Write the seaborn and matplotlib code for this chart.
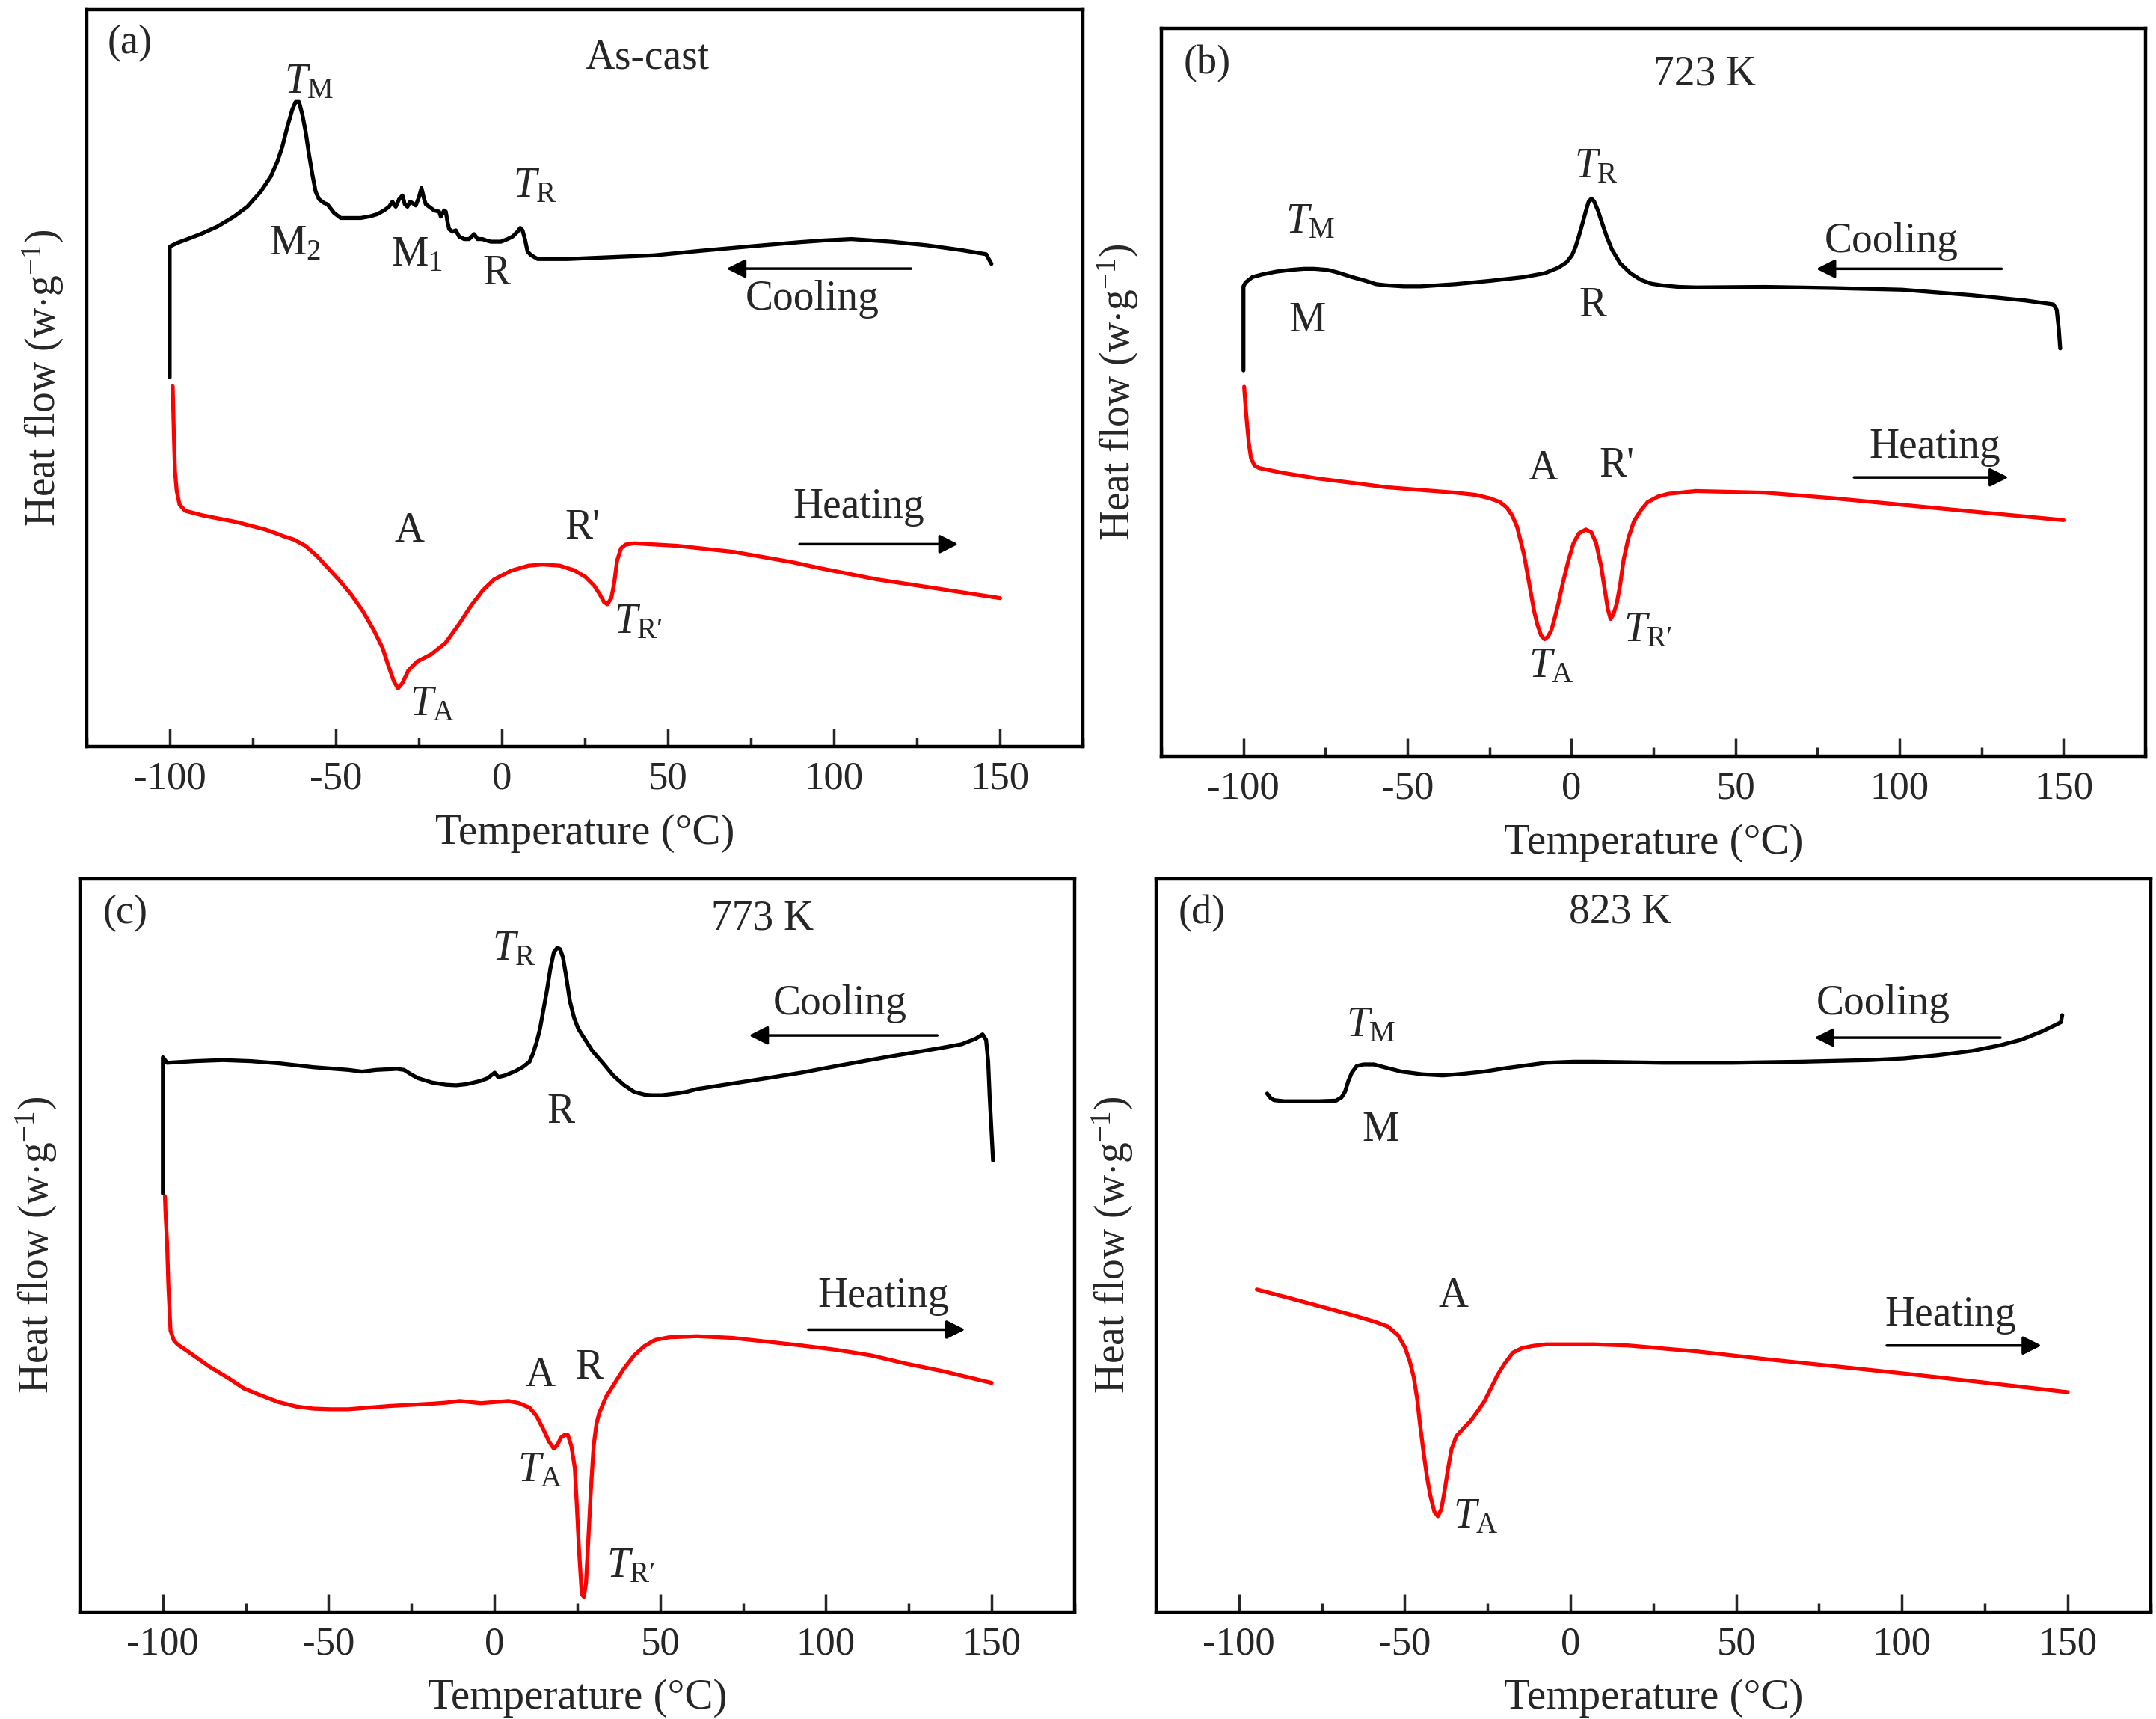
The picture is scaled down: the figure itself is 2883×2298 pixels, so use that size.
import numpy as np
import pandas as pd
import matplotlib
matplotlib.use("Agg")
import matplotlib.pyplot as plt
from matplotlib.ticker import MultipleLocator
import seaborn as sns

# ---- data (temperature in degC, heat flow in arbitrary units) ----
# (a) As-cast
a_cool_T = [-100, -100, -97.73, -94.72, -90.70, -85.68, -80.65, -76.63, -72.61, -69.60, -67.59, -66.08,
            -64.57, -63.06, -62.06, -61.05, -60.05, -59.04, -58.04, -57.03, -56.03, -55.02, -53.51, -52.51,
            -50.50, -48.49, -45.48, -42.46, -39.45, -37.44, -35.43, -33.92, -32.91, -31.91, -30.90, -29.90,
            -29.19, -28.39, -27.59, -26.88, -25.88, -24.87, -24.17, -23.36, -22.86, -21.36, -20.35, -18.84,
            -18.34, -17.33, -16.83, -16.33, -15.83, -14.82, -13.82, -12.81, -11.31, -9.80, -8.29, -7.29,
            -5.78, -4.77, -3.27, -0.25, 1.76, 3.27, 4.78, 5.58, 6.28, 6.99, 7.79, 8.80, 10.81, 19.85,
            45.98, 60.0, 76.3, 90.0, 97.0, 105.3, 117.7, 128.0, 138.4, 145.9, 147.5]
a_cool_y = [268.4, 363.5, 366.2, 368.9, 372.6, 378.0, 385.3, 392.5, 403.4, 414.3, 425.2, 436.1,
            450.5, 463.2, 468.7, 468.7, 459.6, 446.9, 430.6, 416.1, 403.4, 398.0, 395.2, 394.3,
            388.0, 384.3, 384.3, 384.3, 385.6, 387.1, 389.8, 392.5, 396.1, 392.5, 398.0, 400.7,
            394.3, 392.5, 396.1, 395.2, 393.4, 399.8, 406.1, 398.0, 394.3, 391.6, 389.8, 388.9,
            385.3, 389.8, 388.9, 381.6, 376.2, 374.4, 375.3, 370.8, 369.0, 369.0, 372.6, 369.0,
            369.0, 368.1, 367.1, 367.1, 369.0, 370.8, 374.4, 377.1, 375.3, 369.0, 359.9, 357.4, 354.5, 354.5,
            357.2, 360.5, 364.0, 366.8, 368.0, 369.0, 367.0, 364.5, 361.0, 358.0, 351.0]
a_heat_T = [-99.09, -98.74, -98.40, -97.88, -97.02, -95.30, -90.13, -79.80, -71.19, -66.88, -65.68, -62.58,
            -59.13, -55.69, -52.24, -48.80, -45.35, -41.91, -38.46, -35.88, -34.16, -32.43, -31.23, -29.85,
            -28.13, -25.55, -21.24, -16.94, -12.63, -9.19, -5.74, -2.30, 2.87, 8.04, 12.34, 17.51, 21.82,
            25.26, 27.84, 29.57, 30.77, 31.81, 33.01, 33.88, 34.74, 35.94, 37.32, 39.90, 52.82, 70.04,
            87.26, 95.88, 113.1, 130.3, 150.1]
a_heat_y = [262.0, 227.6, 200.4, 185.9, 175.9, 171.4, 168.1, 163.2, 157.8, 154.1, 152.9, 150.5,
            146.0, 138.7, 129.7, 120.6, 110.6, 98.8, 84.4, 71.7, 59.0, 47.2, 42.3, 46.3,
            55.3, 61.7, 67.1, 75.3, 89.8, 102.5, 113.4, 121.5, 127.9, 131.5, 132.4, 131.5, 128.2,
            123.3, 117.0, 110.6, 105.2, 103.4, 107.9, 118.8, 135.1, 144.2, 146.9, 147.8, 146.0, 141.5,
            134.2, 129.7, 121.5, 115.2, 107.9]

# (b) 723 K
b_cool_T = [-100, -100, -99.37, -97.28, -94.13, -89.94, -85.75, -81.56, -78.42, -74.22, -71.08, -66.89,
            -62.70, -59.56, -56.41, -51.17, -45.93, -35.46, -24.98, -14.50, -8.21, -4.02, -1.51, 0.17,
            1.22, 2.26, 3.31, 4.36, 5.20, 6.04, 6.87, 8.13, 9.39, 10.65, 12.32, 14.84, 17.98, 21.12,
            24.27, 27.41, 32.65, 37.89, 58.84, 79.80, 100.75, 121.71, 138.47, 146.86, 147.90, 148.53, 148.95]
b_cool_y = [515.8, 628.0, 633.2, 640.5, 644.2, 647.8, 650.0, 651.5, 651.5, 650.0, 646.4, 640.5,
            635.4, 631.0, 629.5, 628.0, 628.0, 631.0, 635.4, 640.5, 645.6, 653.0, 660.3, 669.8,
            680.8, 695.5, 711.7, 728.5, 741.0, 745.4, 741.7, 728.5, 711.7, 695.5, 677.2, 658.8, 645.6, 636.8,
            631.7, 629.5, 627.3, 626.6, 627.3, 625.8, 623.6, 616.3, 609.0, 603.8, 596.5, 570.8, 545.1]
b_heat_T = [-99.79, -99.37, -98.95, -98.32, -97.69, -96.65, -95.18, -87.85, -77.37, -66.89, -56.41, -45.93,
            -35.46, -29.17, -24.98, -21.84, -19.74, -18.06, -16.60, -15.55, -14.50, -13.45, -12.41, -11.36,
            -10.31, -9.26, -8.21, -7.17, -6.12, -5.07, -4.02, -2.56, -0.88, 0.59, 2.26, 4.36, 6.04, 7.50,
            8.97, 10.02, 11.06, 11.90, 12.74, 13.79, 14.84, 15.88, 17.35, 19.03, 21.12, 23.22, 26.36,
            29.51, 37.89, 58.84, 79.80, 100.75, 121.71, 150.0]
b_heat_y = [493.8, 468.1, 446.1, 416.7, 398.4, 388.8, 385.2, 378.6, 371.2, 365.4, 359.5, 355.8,
            352.2, 349.2, 344.8, 339.7, 332.4, 321.4, 306.7, 288.3, 270.0, 244.3, 218.6, 192.9,
            174.6, 161.4, 156.3, 159.9, 168.7, 185.6, 204.0, 233.3, 262.7, 284.7, 297.9, 303.0, 299.3, 284.7,
            255.3, 226.0, 196.6, 183.4, 189.3, 204.0, 229.6, 262.7, 292.0, 314.0, 328.7, 339.7, 347.0,
            350.7, 354.4, 352.2, 344.8, 336.0, 327.2, 315.5]

# (c) 773 K
c_cool_T = [-100, -100, -98.74, -90.33, -81.92, -73.51, -65.10, -54.58, -44.07, -39.87, -35.66, -29.35,
            -27.25, -25.15, -23.04, -18.84, -14.63, -11.48, -8.33, -4.12, -2.02, -0.97, 0.08, 1.14, 3.24,
            6.39, 8.49, 10.60, 11.65, 12.70, 13.75, 14.80, 15.85, 16.90, 17.96, 19.01, 19.85, 20.69, 21.53,
            22.79, 24.05, 25.32, 27.42, 29.52, 32.67, 35.83, 38.98, 42.14, 45.29, 47.39, 50.55, 54.75,
            57.91, 61.06, 71.57, 82.09, 92.60, 103.11, 117.83, 134.65, 140.96, 145.16, 147.27, 148.32,
            148.95, 149.37, 150.42]
c_cool_y = [559.1, 741.0, 733.7, 735.9, 737.3, 735.9, 733.0, 727.8, 724.2, 721.9, 724.2, 725.6,
            724.2, 718.3, 713.1, 707.3, 704.3, 703.6, 705.1, 709.5, 713.1, 716.8, 720.5, 714.6, 716.8,
            722.7, 727.8, 735.1, 746.1, 760.8, 779.2, 804.8, 830.5, 859.9, 881.9, 887.7, 885.5, 874.5, 852.5,
            815.8, 793.8, 779.2, 764.5, 749.8, 733.7, 716.8, 704.3, 694.8, 691.1, 690.4, 690.4, 692.6,
            694.8, 698.5, 705.8, 713.1, 720.5, 729.3, 741.0, 753.5, 758.6, 766.0, 771.8, 764.5,
            735.1, 691.1, 603.1]
c_heat_T = [-99.37, -99.16, -98.74, -98.32, -97.69, -96.64, -95.58, -92.43, -86.12, -79.81, -75.61, -70.35,
            -65.10, -59.84, -54.58, -49.33, -44.07, -37.76, -31.45, -25.15, -18.84, -14.63, -10.43, -7.27,
            -4.12, 0.08, 4.29, 7.44, 10.60, 12.70, 14.80, 16.48, 17.96, 19.01, 20.06, 21.11, 22.16, 23.21,
            24.26, 24.89, 25.53, 26.37, 27.00, 27.63, 28.26, 29.10, 29.94, 30.78, 31.62, 33.73, 35.83,
            38.98, 42.14, 45.29, 48.44, 52.65, 61.06, 71.57, 82.09, 92.60, 103.11, 113.63, 124.14,
            134.65, 150.0]
c_heat_y = [555.4, 529.7, 493.0, 434.3, 375.6, 362.4, 357.3, 347.8, 328.0, 311.1, 298.6, 289.1,
            280.3, 274.4, 271.5, 270.7, 270.7, 272.9, 275.1, 276.6, 278.1, 279.5, 281.7, 280.3,
            278.8, 280.3, 281.7, 278.8, 272.9, 261.9, 243.6, 227.4, 217.9, 223.0, 232.6, 236.2, 236.2, 221.6,
            192.2, 140.9, 82.2, 23.5, 19.8, 38.2, 89.5, 162.9, 221.6, 251.0, 265.6, 287.6, 302.3,
            324.3, 342.6, 355.1, 363.2, 366.8, 368.3, 366.1, 361.0, 355.8, 350.0, 342.6, 331.6,
            322.1, 305.9]

# (d) 823 K
d_cool_T = [-91.49, -90.45, -89.41, -86.30, -75.91, -70.72, -69.06, -68.02, -66.99, -65.95, -64.49, -62.42,
            -59.30, -56.19, -51.00, -44.77, -38.54, -32.31, -26.08, -19.85, -13.62, -7.39, 0.91, 7.14,
            27.91, 48.67, 69.44, 90.20, 100.58, 110.96, 121.35, 129.65, 135.88, 142.11, 146.26, 147.92, 148.34]
d_cool_y = [692.6, 686.7, 683.8, 682.3, 682.3, 683.1, 687.5, 694.8, 709.5, 720.5, 729.3, 731.5,
            731.5, 727.8, 721.9, 718.3, 716.8, 719.0, 721.9, 726.3, 730.0, 733.7, 735.1, 735.1,
            733.7, 733.7, 735.1, 737.3, 739.5, 743.9, 749.8, 757.2, 764.5, 775.5, 784.3, 788.0, 797.5]
d_heat_T = [-94.60, -86.30, -75.91, -65.53, -59.30, -55.15, -52.03, -49.96, -48.50, -47.26, -46.22, -45.39,
            -44.35, -43.31, -42.28, -41.03, -39.99, -38.95, -37.92, -36.88, -35.84, -34.39, -32.31, -30.23,
            -28.16, -26.08, -24.00, -21.93, -19.85, -17.36, -14.66, -11.54, -7.39, -3.24, 7.14, 17.52,
            38.29, 59.05, 79.82, 100.58, 121.35, 150.0]
d_heat_y = [430.7, 421.1, 408.7, 396.2, 388.1, 381.5, 369.8, 353.6, 335.3, 313.3, 284.0, 251.0,
            214.2, 181.2, 155.5, 133.5, 127.7, 137.2, 162.9, 192.2, 217.9, 234.8, 245.1, 254.6,
            267.1, 280.3, 298.6, 317.0, 331.6, 346.3, 352.2, 355.1, 357.3, 357.3, 357.3, 355.8,
            347.8, 337.5, 328.0, 318.4, 308.1, 293.5]

panel_tags = ["(a)", "(b)", "(c)", "(d)"]
panel_titles = ["As-cast", "723 K", "773 K", "823 K"]
x_ticks = [-100, -50, 0, 50, 100, 150]

TM = r"$T_{\mathrm{M}}$"
TR = r"$T_{\mathrm{R}}$"
TA = r"$T_{\mathrm{A}}$"
TRp = "$T_{\\mathrm{R\u2032}}$"

# peak labels: (text, T, y)
a_labels = [(TM, -58.1, 483), ("M$_{2}$", -62.3, 365.4), ("M$_{1}$", -25.6, 357.5), ("R", -1.5, 343.5),
            (TR, 10.1, 407.3), ("Cooling", 93.5, 325.5), ("Heating", 107.5, 173.9), ("A", -27.7, 156.7),
            ("R'", 24.3, 159.1), (TRp, 41.1, 90.1), (TA, -20.9, 30.2)]
b_labels = [(TR, 7.5, 787.2), (TM, -79.5, 713.9), ("M", -80.5, 581.8), ("R", 6.5, 602.3),
            ("Cooling", 97.6, 688.2), ("Heating", 110.8, 413.1), ("A", -8.6, 383.7), ("R'", 13.8, 387.4),
            (TRp, 23.2, 167.3), (TA, -6.1, 119.6)]
c_labels = [(TR, 6.0, 885.5), ("R", 20.1, 667.6), ("Cooling", 104.2, 812.2), ("Heating", 117.4, 421.9),
            ("A", 13.8, 315.5), ("R", 28.5, 325.8), (TA, 13.8, 188.6), (TRp, 41.1, 60.2)]
d_labels = [(TM, -60.3, 782.8), ("M", -57.2, 643.4), ("Cooling", 94.4, 812.2), ("A", -35.4, 421.9),
            ("Heating", 114.7, 396.2), (TA, -28.6, 126.2)]

# arrows: (T_start, T_end, y)
a_arrows = [(123.3, 67.7, 347.5), (89.7, 137.5, 147.2)]
b_arrows = [(131.1, 74.6, 651.5), (86.1, 133.2, 372.7)]
c_arrows = [(133.6, 76.8, 770.4), (94.7, 142.0, 377.1)]
d_arrows = [(129.7, 73.6, 767.4), (95.4, 142.1, 355.8)]

# ---- style ----
sns.set_style("white")
plt.rcParams['font.family'] = ['Liberation Serif', 'DejaVu Serif']
plt.rcParams['mathtext.fontset'] = 'custom'
plt.rcParams['mathtext.rm'] = 'Liberation Serif'
plt.rcParams['mathtext.it'] = 'Liberation Serif:italic'
plt.rcParams['axes.unicode_minus'] = False

fig = plt.figure(figsize=(28.83, 22.98), dpi=100)
boxes = [[0.0402, 0.5657, 0.4620, 0.4286],
         [0.5387, 0.5601, 0.4565, 0.4234],
         [0.0371, 0.0624, 0.4613, 0.4263],
         [0.5362, 0.0624, 0.4613, 0.4263]]
ylims = [535.7, 972.9, 979.5, 979.5]
tag_pos = [(0.021, 0.954), (0.0225, 0.952), (0.023, 0.953), (0.0226, 0.953)]
title_pos = [(0.563, 0.935), (0.552, 0.937), (0.686, 0.945), (0.467, 0.955)]

curves = [(a_cool_T, a_cool_y, a_heat_T, a_heat_y),
          (b_cool_T, b_cool_y, b_heat_T, b_heat_y),
          (c_cool_T, c_cool_y, c_heat_T, c_heat_y),
          (d_cool_T, d_cool_y, d_heat_T, d_heat_y)]
labels = [a_labels, b_labels, c_labels, d_labels]
arrows = [a_arrows, b_arrows, c_arrows, d_arrows]

for i in range(4):
    ax = fig.add_axes(boxes[i])
    cT, cy, hT, hy = curves[i]
    cool = pd.DataFrame({"T": cT, "HF": cy})
    heat = pd.DataFrame({"T": hT, "HF": hy})
    sns.lineplot(data=cool, x="T", y="HF", sort=False, estimator=None, color="black", lw=3.8, ax=ax)
    sns.lineplot(data=heat, x="T", y="HF", sort=False, estimator=None, color="#ff0000", lw=3.8, ax=ax)
    for ln in ax.get_lines():
        ln.set_solid_joinstyle("round")
        ln.set_solid_capstyle("round")

    ax.set_xlim(-125, 175)
    ax.set_ylim(0, ylims[i])
    ax.set_xticks(x_ticks)
    ax.xaxis.set_minor_locator(MultipleLocator(25))
    ax.set_yticks([])
    ax.tick_params(axis='x', which='major', direction='in', length=17, width=2.5, pad=14,
                   labelsize=38, bottom=True, top=False)
    ax.tick_params(axis='x', which='minor', direction='in', length=8.5, width=2.5, bottom=True, top=False)
    for sp in ax.spines.values():
        sp.set_linewidth(3.2)
        sp.set_color("black")

    ax.set_xlabel("Temperature (\u00b0C)", fontsize=41, labelpad=16)
    ax.set_ylabel(r"Heat flow (w$\cdot$g$^{-1}$)", fontsize=40, labelpad=20)

    ax.text(tag_pos[i][0], tag_pos[i][1], panel_tags[i], transform=ax.transAxes, fontsize=39,
            ha="left", va="center")
    ax.text(title_pos[i][0], title_pos[i][1], panel_titles[i], transform=ax.transAxes, fontsize=40,
            ha="center", va="center")

    for txt, tx, ty in labels[i]:
        ax.text(tx, ty, txt, fontsize=40, ha="center", va="center")
    for x0, x1, yy in arrows[i]:
        ax.annotate("", xy=(x1, yy), xytext=(x0, yy),
                    arrowprops=dict(arrowstyle="-|>", color="black", lw=2.5, mutation_scale=38,
                                    shrinkA=0, shrinkB=0))

fig.savefig("out.png", dpi=100)
